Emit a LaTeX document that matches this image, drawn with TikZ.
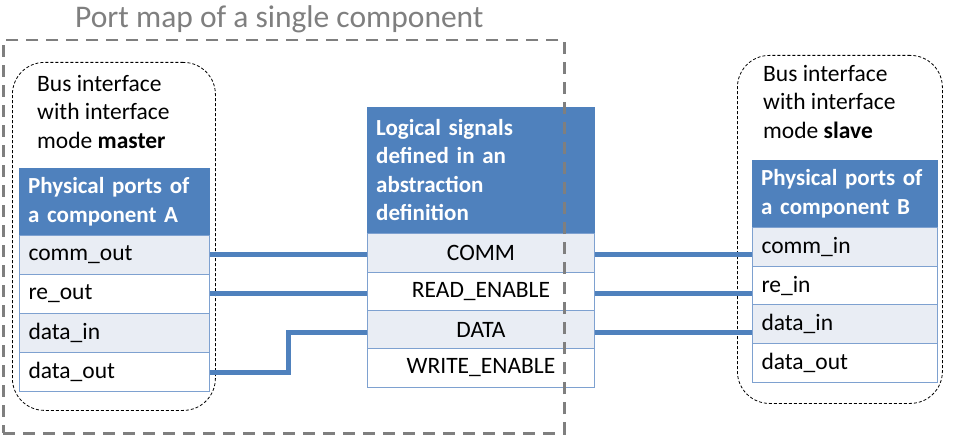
\documentclass[tikz,border=0pt]{standalone}
\usepackage{fontspec}
\setmainfont{Carlito}
\usetikzlibrary{positioning}
\definecolor{hdr}{HTML}{4F81BD}
\definecolor{rowlt}{HTML}{E9EDF4}
\definecolor{rowln}{HTML}{7EA1D0}
\definecolor{frame}{HTML}{7F7F7F}
\begin{document}
\begin{tikzpicture}[x=1pt,y=-1pt,
  body/.style={font=\fontsize{23.5}{28.5}\selectfont},
  hdrcell/.style={draw=hdr, fill=hdr, text=white, anchor=north west, inner sep=0pt, inner xsep=9pt,
    font=\fontsize{23}{28.5}\selectfont\bfseries, align=left},
  cell/.style={draw=rowln, line width=1pt, anchor=north west, inner sep=0pt, inner xsep=9pt,
    font=\fontsize{23.5}{28.5}\selectfont, align=left, minimum height=39pt},
  odd/.style={fill=rowlt},
  even/.style={fill=white},
  wire/.style={draw=hdr, line width=5pt},
  busbox/.style={draw=black, line width=0.8pt, dash pattern=on 3pt off 2pt, rounded corners=32pt},
  pmap/.style={draw=frame, line width=2.5pt, dash pattern=on 12pt off 8pt}
]
\useasboundingbox (0,0) rectangle (956,446);

% rounded bus interface boxes
\node[busbox, anchor=north west, minimum width=203pt, minimum height=348pt, inner sep=0pt] (busA) at (12,62) {};
\node[busbox, anchor=north west, minimum width=205pt, minimum height=348pt, inner sep=0pt] (busB) at (737,55) {};

\node[body, anchor=north west, align=left, inner sep=0pt] (txtA) at (37,75) {Bus interface\\with interface\\mode \textbf{master}};
\node[body, anchor=north west, align=left, inner sep=0pt] (txtB) at (763,65) {Bus interface\\with interface\\mode \textbf{slave}};

% left table
\node[hdrcell, minimum height=67pt, text width=172pt] (Ah) at (19,168) {Physical ports of\\a component A};
\node[cell, odd,  text width=172pt] (A1) at (19,235) {comm\_out};
\node[cell, even, text width=172pt] (A2) at (19,274) {re\_out};
\node[cell, odd,  text width=172pt] (A3) at (19,313) {data\_in};
\node[cell, even, text width=172pt] (A4) at (19,352) {data\_out};

% middle table
\node[hdrcell, minimum height=126pt, text width=209pt] (Mh) at (367,107) {Logical signals\\defined in an\\abstraction\\definition};
\node[cell, odd,  text width=209pt, align=center] (M1) at (367,233) {COMM};
\node[cell, even, text width=209pt, align=center, minimum height=38pt] (M2) at (367,272) {READ\_ENABLE};
\node[cell, odd,  text width=209pt, align=center, minimum height=38pt] (M3) at (367,310) {DATA};
\node[cell, even, text width=209pt, align=center] (M4) at (367,348) {WRITE\_ENABLE};

% right table
\node[hdrcell, minimum height=67pt, text width=167pt] (Bh) at (752,160) {Physical ports of\\a component B};
\node[cell, odd,  text width=167pt] (B1) at (752,227) {comm\_in};
\node[cell, even, text width=167pt, minimum height=38pt] (B2) at (752,266) {re\_in};
\node[cell, odd,  text width=167pt] (B3) at (752,304) {data\_in};
\node[cell, even, text width=167pt] (B4) at (752,343) {data\_out};

% wires
\draw[wire] ([yshift=-2pt]M1.west) -- ([yshift=-2pt]M1.west -| A1.east);
\draw[wire] ([yshift=-2pt]M2.west) -- ([yshift=-2pt]M2.west -| A2.east);
\draw[wire] (A4.east) -- ++(78,0) |- ([yshift=-3pt]M3.west);
\draw[wire] ([yshift=-2pt]M1.east) -- ([yshift=-2pt]M1.east -| B1.west);
\draw[wire] ([yshift=-2pt]M2.east) -- ([yshift=-2pt]M2.east -| B2.west);
\draw[wire] ([yshift=-3pt]M3.east) -- ([yshift=-3pt]M3.east -| B3.west);

% port map frame
\node[pmap, anchor=north west, minimum width=561pt, minimum height=393pt, inner sep=0pt] (pm) at (2,39) {};
\node[anchor=base west, inner sep=0pt, text=frame, font=\fontsize{31.5}{36}\selectfont] (title) at (75,28) {Port map of a single component};
\end{tikzpicture}
\end{document}
